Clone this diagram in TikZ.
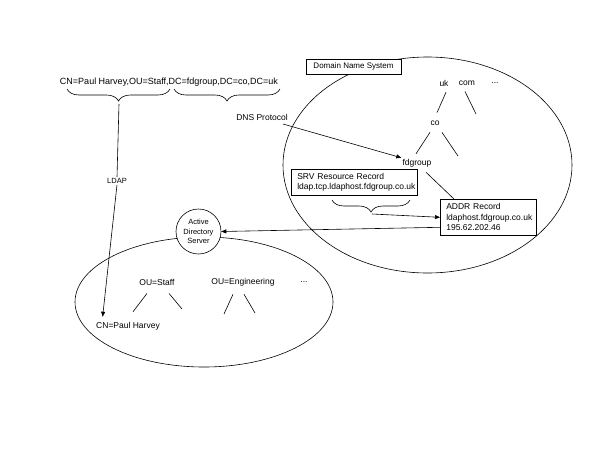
\documentclass[tikz,border=0pt]{standalone}
\usepackage{fontspec}
\setmainfont{Liberation Sans}
\usetikzlibrary{arrows.meta,decorations.pathreplacing,calc}
\begin{document}
\begin{tikzpicture}[x=1pt,y=-1pt,
  line width=0.6pt,
  txt/.style={inner sep=1pt,font=\fontsize{8.5}{10}\selectfont},
  recbox/.style={draw,fill=white,align=left,inner xsep=6pt,inner ysep=3pt,font=\fontsize{8.5}{10.5}\selectfont,anchor=north west},
  arr/.style={-{Triangle[length=5pt,width=4pt]}},
  brc/.style={decorate,decoration={brace,mirror,amplitude=12pt,aspect=0.5}}
]
\useasboundingbox (0,0) rectangle (598,448);
\fill[white] (0,0) rectangle (598,448);

% regions
\draw (427.5,165) ellipse [x radius=144.5pt, y radius=108pt];
\draw (204,302) ellipse [x radius=129pt, y radius=65pt];

% distinguished name and braces
\node[txt,font=\fontsize{9}{10}\selectfont] (dn) at (169,82) {CN=Paul Harvey,OU=Staff,DC=fdgroup,DC=co,DC=uk};
\coordinate (b1a) at (67,89);
\coordinate (b1b) at (170,89);
\draw[brc] (b1a) -- (b1b);
\coordinate (t1) at (119,104);
\coordinate (b2a) at (174,89);
\coordinate (b2b) at (280,89);
\draw[brc] (b2a) -- (b2b);

% DNS
\node[draw,fill=white,inner sep=1pt,minimum width=95pt,minimum height=15pt,font=\fontsize{8}{10}\selectfont] (dnsbox) at (353.5,66.5) {Domain Name System};
\node[txt] (uk) at (444,83) {uk};
\node[txt] (com) at (467,83) {com};
\node[txt] (dd1) at (495,83) {...};
\node[txt] (co) at (435,123) {co};
\node[txt] (fdg) at (417,163) {fdgroup};
\coordinate (comleaf) at (476,114);
\coordinate (coleaf) at (458,156);
\draw ($(uk.south)+(2,4.9)$) -- ($(co.north)+(2,-6.75)$);
\draw ($(com.south)+(-2,4.9)$) -- (comleaf);
\draw ($(co.south)+(-5,5.75)$) -- ($(fdg.north)+(-1,-4)$);
\draw ($(co.south)+(7,5.75)$) -- (coleaf);

\node[txt] (dnsl) at (262,117) {DNS Protocol};
\coordinate (dnsa) at (283,124);
\draw[arr] (dnsa) -- (fdg.north west);

\node[recbox,text width=114pt,minimum height=26pt] (srv) at (291,169) {SRV Resource Record\\ldap.tcp.ldaphost.fdgroup.co.uk};
\node[recbox,text width=84pt,minimum height=36pt] (addr) at (440,199) {ADDR Record\\ldaphost.fdgroup.co.uk\\195.62.202.46};
\draw ($(fdg.south)+(9,4)$) -- ($(addr.north west)+(14,0)$);

\coordinate (b3a) at (332,200);
\coordinate (b3b) at (410,200);
\draw[brc] (b3a) -- (b3b);
\coordinate (t3) at (372,214);
\draw[arr] (t3) -- (addr.west);

% Active Directory
\node[draw,circle,fill=white,minimum size=45pt,inner sep=0pt,align=center,font=\fontsize{7.5}{9.5}\selectfont] (ads) at (198.5,231.5) {Active\\Directory\\Server};
\draw[arr] ([yshift=-10pt]addr.west) -- (ads.east);

\node[txt] (staff) at (157,282) {OU=Staff};
\node[txt] (eng) at (243,282) {OU=Engineering};
\node[txt] (dd2) at (304,282) {...};
\node[txt] (cn) at (128,326) {CN=Paul Harvey};
\coordinate (stleaf) at (182,309);
\coordinate (engl) at (224,314);
\coordinate (engr) at (255,313);
\draw ($(staff.south)+(-10,7)$) -- ($(cn.north)+(5,-9)$);
\draw ($(staff.south)+(12,7)$) -- (stleaf);
\draw ($(eng.south)+(-10,7)$) -- (engl);
\draw ($(eng.south)+(1,7)$) -- (engr);

% LDAP
\node[txt,fill=white,font=\fontsize{7.5}{9}\selectfont] (ldap) at (117,181) {LDAP};
\draw (t1) -- (ldap.north);
\draw[arr] (ldap.south) -- ($(cn.north west)+(7.7,-4)$);
\end{tikzpicture}
\end{document}
